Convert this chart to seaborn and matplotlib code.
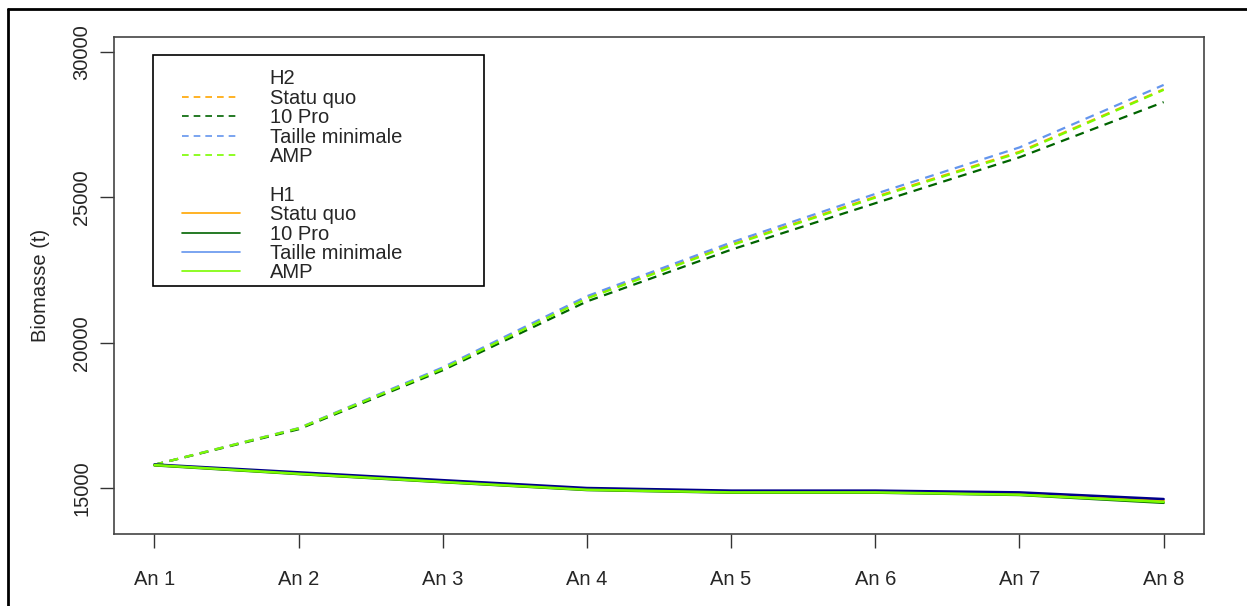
import numpy as np
import pandas as pd
import matplotlib
matplotlib.use("Agg")
import matplotlib.pyplot as plt
import seaborn as sns
from matplotlib.lines import Line2D
from matplotlib.patches import Rectangle

sns.set_style("white")
plt.rcParams['font.family'] = ['Liberation Sans', 'DejaVu Sans']

# Données
annees = ["An 1", "An 2", "An 3", "An 4", "An 5", "An 6", "An 7", "An 8"]
scenarios = ["Statu quo", "10 Pro", "Taille minimale", "AMP"]

# H2 (pointillés)
h2_statu_quo = [15800, 17050, 19120, 21550, 23380, 25020, 26570, 28720]
h2_10_pro = [15800, 17020, 19050, 21420, 23200, 24800, 26380, 28280]
h2_taille_min = [15800, 17060, 19150, 21600, 23450, 25120, 26720, 28870]
h2_amp = [15800, 17050, 19100, 21520, 23350, 24990, 26540, 28700]

# H1 (traits pleins)
h1_statu_quo = [15790, 15500, 15220, 14950, 14860, 14860, 14790, 14560]
h1_10_pro = [15780, 15480, 15200, 14930, 14840, 14840, 14760, 14490]
h1_taille_min = [15810, 15540, 15270, 15000, 14910, 14910, 14850, 14620]
h1_amp = [15790, 15490, 15210, 14940, 14850, 14850, 14770, 14520]

couleurs_h2 = ["#FFA500", "#006400", "#6495ED", "#7CFC00"]
couleurs_h1_trace = ["#FFA500", "#006400", "#00008B", "#7CFC00"]
couleurs_h1_legende = ["#FFA500", "#006400", "#6495ED", "#7CFC00"]

x = np.arange(1, len(annees) + 1)
fs = 14.5

fig = plt.figure(figsize=(12.47, 6.06), dpi=100)
ax = fig.add_axes([114 / 1247, 1 - 534 / 606, 1090 / 1247, 497 / 606])

# Courbes H2
for vals, c in zip([h2_statu_quo, h2_10_pro, h2_taille_min, h2_amp], couleurs_h2):
    df = pd.DataFrame({'annee': x, 'biomasse': vals})
    sns.lineplot(data=df, x='annee', y='biomasse', ax=ax, color=c, linewidth=1.6)
    ax.lines[-1].set_dashes((4, 3))

# Courbes H1
for vals, c in zip([h1_statu_quo, h1_10_pro, h1_taille_min, h1_amp], couleurs_h1_trace):
    df = pd.DataFrame({'annee': x, 'biomasse': vals})
    sns.lineplot(data=df, x='annee', y='biomasse', ax=ax, color=c, linewidth=1.8)

ax.set_xlim(1 - 0.28, 8 + 0.28)
ax.set_ylim(13417, 30520)
ax.set_xticks(x)
ax.set_xticklabels(annees, fontsize=fs)
ax.set_yticks([15000, 20000, 25000, 30000])
ax.set_yticklabels(['15000', '20000', '25000', '30000'], fontsize=fs,
                   rotation=90, va='center')
ax.tick_params(axis='both', direction='out', length=10, width=1, color='#333333',
               bottom=True, left=True)
ax.tick_params(axis='x', pad=16)
ax.tick_params(axis='y', pad=6.5)
ax.set_xlabel('')
ax.set_ylabel('Biomasse (t)', fontsize=fs, labelpad=16)
for s in ax.spines.values():
    s.set_color('#444444')
    s.set_linewidth(1.2)
ax.grid(False)

# Légende
handles = [Line2D([], [], color='none')]
labels = ['H2']
for c, nom in zip(couleurs_h2, scenarios):
    handles.append(Line2D([], [], color=c, linewidth=1.2, dashes=(4, 3)))
    labels.append(nom)
handles.append(Line2D([], [], color='none'))
labels.append(' ')
handles.append(Line2D([], [], color='none'))
labels.append('H1')
for c, nom in zip(couleurs_h1_legende, scenarios):
    handles.append(Line2D([], [], color=c, linewidth=1.2))
    labels.append(nom)

ax.legend(handles, labels, loc='upper left', bbox_to_anchor=(0.0624, 0.9347),
          frameon=False, borderpad=0, borderaxespad=0, fontsize=fs,
          handlelength=2.9, handletextpad=1.45, labelspacing=0.02)
ax.add_patch(Rectangle((0.0358, 0.499), 0.3037, 0.4648, transform=ax.transAxes,
                       fill=False, edgecolor='black', linewidth=1.2, zorder=5))

# Cadre extérieur
fig.add_artist(Line2D([8 / 1247, 8 / 1247], [0, 1 - 9 / 606], color='black',
                      linewidth=2, transform=fig.transFigure))
fig.add_artist(Line2D([8 / 1247, 1], [1 - 9 / 606, 1 - 9 / 606], color='black',
                      linewidth=2, transform=fig.transFigure))

fig.savefig('out.png', dpi=100)
